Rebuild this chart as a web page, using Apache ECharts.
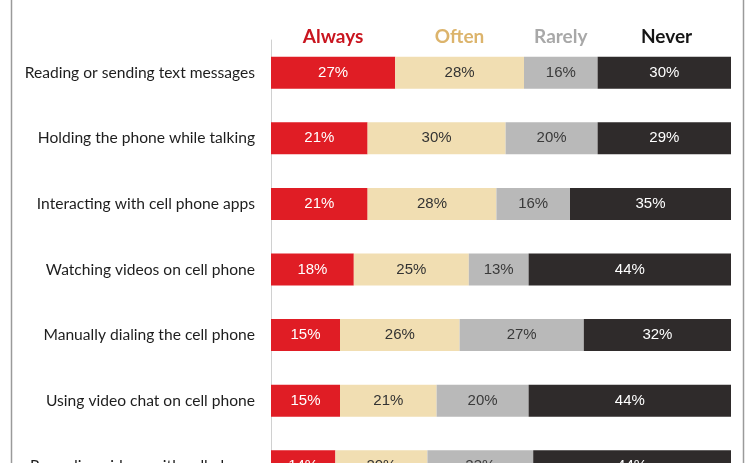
<!DOCTYPE html>
<html>
<head>
<meta charset="utf-8">
<script src="https://cdn.jsdelivr.net/npm/echarts@6/dist/echarts.min.js"></script>
<style>
  html, body { margin: 0; padding: 0; background: #fff; }
  #chart { width: 750px; height: 463px; }
</style>
</head>
<body>
<div id="chart"></div>
<script>
const categories = [
  "Reading or sending text messages",
  "Holding the phone while talking",
  "Interacting with cell phone apps",
  "Watching videos on cell phone",
  "Manually dialing the cell phone",
  "Using video chat on cell phone",
  "Recording videos with cell phone"
];
const seriesNames = ["Always", "Often", "Rarely", "Never"];
const always = [27, 21, 21, 18, 15, 15, 14];
const often  = [28, 30, 28, 25, 26, 21, 20];
const rarely = [16, 20, 16, 13, 27, 20, 23];
const never  = [30, 29, 35, 44, 32, 44, 44];

const values = [always, often, rarely, never];
const barColors = ["#e01d25", "#f1deb2", "#b9b9b9", "#2f2b2b"];
const labelColors = ["#ffffff", "#333333", "#3a3a3a", "#ffffff"];
const headerColors = ["#c9151f", "#dcb46c", "#a8a8a8", "#151515"];

const chart = echarts.init(document.getElementById('chart'));

const series = values.map((vals, i) => ({
  name: seriesNames[i],
  type: 'bar',
  stack: 'total',
  barWidth: 32,
  data: vals,
  itemStyle: { color: barColors[i] },
  label: {
    show: true,
    position: 'inside',
    formatter: '{c}%',
    color: labelColors[i],
    fontFamily: 'Liberation Sans, Arial, sans-serif',
    fontSize: 15
  },
  emphasis: { disabled: true }
}));

chart.setOption({
  animation: false,
  backgroundColor: '#ffffff',
  grid: { left: 271, right: 19, top: 40, height: 459, containLabel: false, outerBoundsMode: 'none' },
  xAxis: {
    type: 'value', min: 0, max: 100, show: false
  },
  yAxis: {
    type: 'category',
    data: categories,
    inverse: true,
    axisLine: { show: true, lineStyle: { color: '#d0d0d0', width: 1 } },
    axisTick: { show: false },
    axisLabel: {
      margin: 16,
      color: '#1e1e1e',
      fontSize: 15.6,
      fontFamily: 'Lato, sans-serif'
    }
  },
  series: series
});

// Column headers, placed over the first row's segments via the chart's scales
const graphics = [];
let cum = 0;
values.forEach((vals, i) => {
  const mid = cum + vals[0] / 2;
  cum += vals[0];
  const p = chart.convertToPixel({ gridIndex: 0 }, [mid, categories[0]]);
  graphics.push({
    type: 'text',
    x: p[0],
    y: p[1] - 36,
    style: {
      text: seriesNames[i],
      fill: headerColors[i],
      font: 'bold 19px Lato, sans-serif',
      align: 'center',
      verticalAlign: 'middle'
    }
  });
});
// Frame lines at left and right
graphics.push({ type: 'line', shape: { x1: 11.5, y1: 0, x2: 11.5, y2: 463 }, style: { stroke: '#9a9a9a', lineWidth: 1.5 } });
graphics.push({ type: 'line', shape: { x1: 743.5, y1: 0, x2: 743.5, y2: 463 }, style: { stroke: '#9a9a9a', lineWidth: 1.5 } });

chart.setOption({ graphic: graphics });
</script>
</body>
</html>
